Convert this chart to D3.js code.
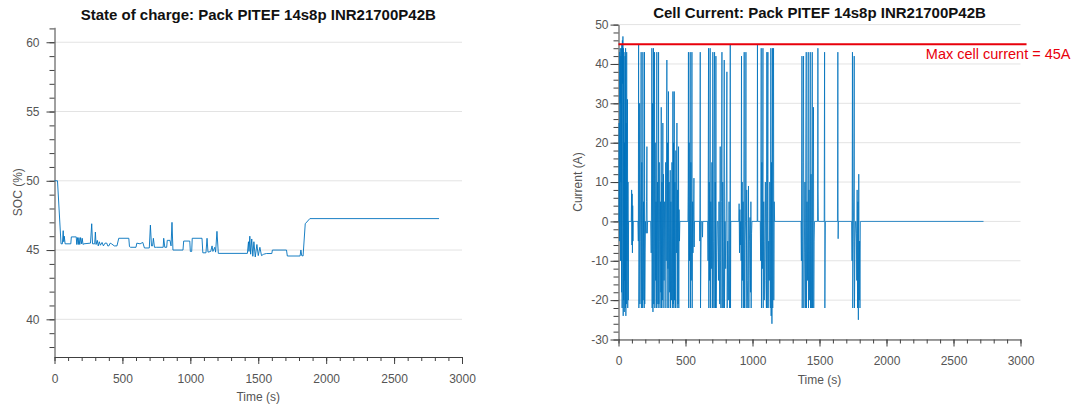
<!DOCTYPE html>
<html>
<head>
<meta charset="utf-8">
<script src="https://cdn.jsdelivr.net/npm/d3@7"></script>
<style>
  html, body { margin: 0; padding: 0; background: #fff; }
  svg { display: block; font-family: "Liberation Sans", Arial, sans-serif; }
</style>
</head>
<body>
<svg id="chart" width="1075" height="405"></svg>
<script>
// ---------------- DATA ----------------
const socTitle = "State of charge: Pack PITEF 14s8p INR21700P42B";
const curTitle = "Cell Current: Pack PITEF 14s8p INR21700P42B";
const xLabel = "Time (s)";
const socLabel = "SOC (%)";
const curLabel = "Current (A)";
const limitText = "Max cell current = 45A";

const xTicks = [0, 500, 1000, 1500, 2000, 2500, 3000];
const socTicks = [40, 45, 50, 55, 60];
const curTicks = [-30, -20, -10, 0, 10, 20, 30, 40, 50];

const socTime = [0, 22, 48, 58, 64, 68, 72, 78, 120, 124, 160, 164, 170, 175, 180, 186, 192, 198, 204, 210, 216, 265, 274, 280, 296, 301, 306, 315, 322, 330, 338, 350, 360, 372, 385, 392, 400, 410, 420, 440, 460, 473, 547, 552, 560, 600, 606, 630, 650, 662, 698, 706, 714, 722, 728, 736, 752, 800, 804, 812, 826, 830, 850, 858, 865, 872, 946, 951, 996, 1000, 1010, 1014, 1086, 1092, 1115, 1123, 1130, 1150, 1160, 1166, 1180, 1186, 1196, 1206, 1420, 1428, 1432, 1438, 1444, 1452, 1460, 1468, 1478, 1490, 1500, 1512, 1524, 1540, 1560, 1600, 1604, 1708, 1714, 1808, 1814, 1820, 1830, 1846, 1880, 2831];
const socValue = [50, 50, 45.45, 45.45, 46.4, 45.6, 46.0, 45.45, 45.45, 45.95, 45.95, 45.4, 45.9, 45.4, 45.9, 45.4, 45.9, 45.45, 45.85, 45.4, 45.45, 45.5, 46.9, 45.45, 45.45, 46.3, 45.4, 45.7, 45.3, 45.6, 45.35, 45.55, 45.3, 45.5, 45.5, 45.3, 45.3, 45.5, 45.45, 45.3, 45.3, 45.85, 45.85, 45.25, 45.2, 45.2, 45.5, 45.45, 45.55, 45.15, 45.15, 46.8, 45.3, 45.3, 45.85, 45.2, 45.2, 45.2, 45.85, 45.2, 45.2, 45.7, 45.7, 45.3, 47.0, 45.0, 45.0, 45.65, 45.65, 44.9, 44.9, 45.85, 45.85, 44.8, 44.8, 45.85, 44.85, 44.9, 45.3, 44.9, 45.2, 44.85, 46.35, 44.76, 44.76, 45.6, 44.9, 46.0, 44.7, 45.8, 44.55, 45.6, 44.5, 45.4, 44.6, 45.2, 44.6, 44.7, 44.75, 44.75, 45.0, 45.0, 44.57, 44.57, 45.0, 44.6, 44.57, 46.9, 47.27, 47.27];

const curTime = [0, 3, 5, 7, 9, 11, 13, 15, 17, 19, 21, 23, 25, 27, 29, 31, 33, 35, 37, 39, 41, 43, 45, 47, 49, 51, 53, 55, 57, 59, 61, 63, 65, 67, 69, 71, 73, 75,
  95, 98, 100, 102, 104, 106, 108, 110,
  145, 148, 150, 152, 155, 158, 160, 163, 166, 169, 171, 174, 177, 180, 182, 184, 187, 190, 192, 194, 196, 199, 202, 206, 209, 212, 214, 217,
  240, 244, 247, 249, 251, 254, 257, 259, 261, 263, 266, 269, 271, 274, 277, 280, 283, 286, 288, 291, 294, 296, 299, 301, 304, 307, 310, 313, 316, 319, 321, 324, 327, 331, 333, 336, 340, 344, 348, 352, 356, 361, 363, 366, 369, 373, 375, 378, 382, 386, 388, 391, 395, 399, 402, 406, 408, 411, 413, 416, 418, 421, 425, 428, 432, 436, 438, 441, 444, 448, 450, 452, 455, 458,
  518, 520, 522, 524, 527, 530, 533, 535, 537, 540, 543, 546, 548, 550, 553, 556, 559, 563, 565, 567,
  605, 607, 610, 612, 615, 618, 625, 627, 629,
  665, 668, 672, 674, 677, 680, 684, 686, 689, 693, 697, 700, 704, 706, 710, 713, 717, 719, 722, 724, 727, 729, 733, 737, 742, 746, 750, 755, 759, 761, 764, 768, 772, 774, 778, 782, 786, 789, 791, 795, 800, 805, 809, 811, 815, 820, 825, 829, 832, 834, 836, 838,
  898, 900, 903, 906, 909, 912, 915, 918, 920, 923, 926, 930, 934, 938, 940, 944, 948, 951, 953, 957, 961, 965, 970, 973, 977, 981, 985, 988, 990, 993, 996,
  1035, 1037, 1039, 1058, 1061, 1065, 1067, 1070, 1074, 1078, 1080, 1084, 1088, 1092, 1096, 1100, 1104, 1107, 1109, 1112, 1115, 1117, 1121, 1125, 1129, 1133, 1137, 1139, 1142, 1145, 1149, 1151, 1154, 1157, 1159, 1162, 1165,
  1362, 1365, 1369, 1371, 1374, 1377, 1381, 1383, 1387, 1391, 1395, 1398, 1401, 1403, 1407, 1411, 1416, 1418, 1422, 1426, 1431, 1433, 1437, 1441, 1446, 1448, 1451, 1455, 1457, 1460, 1463,
  1485, 1488, 1490, 1492, 1535, 1538, 1540, 1542, 1544, 1634, 1637, 1639, 1641,
  1740, 1743, 1746, 1748, 1752, 1756, 1759, 1761, 1765, 1769, 1772, 1775, 1778, 1781, 1784, 1787, 1790, 1793, 1796, 1799, 1802, 1805, 2724];
const curValue = [0, 0, 25, -5, 43, 30, 44, -10, 42, 10, 44, -18, 45, -22, 46, 35, 47, -24, 44, -20, 43, -23, 20, -15, 42, -22, 44, -24, 25, -21, 43, -10, 5, 31, -22, 10, -20, 0,
  0, 8, -6, 7, -8, 4, -5, 0,
  0, -5, 45, -22, -10, 30, -21, -5, 10, 43, -22, 15, -12, -22, 43, -20, 5, -10, -22, 43, -21, -8, 0, -3, 5, 19, -3, 0,
  0, -8, 10, 44, -22, 30, -23, 12, 44, -21, -5, 43, -22, 20, -15, 5, -22, 43, -21, 10, -8, -22, 43, -21, 15, -5, -22, 5, -18, 29, -22, 10, -20, 25, -22, 12, -15, 5, -22, 15, -10, 41, -22, 20, -12, 33, -22, 10, -18, 13, -22, 5, -20, 15, -22, 33, -21, 20, -22, 33, -20, 10, -22, 18, -8, 25, -22, 8, -21, 19, -22, 3, -5, 0,
  0, 10, 43, -22, 20, -10, 5, 43, -22, 15, -15, 0, 43, -22, 5, -8, 0, 11, -6.5, 0,
  0, -5, 43, -22, -10, 0, 0, -4, 0,
  0, -10, 44, -22, 10, -15, 44, -22, 5, -12, 15, -22, 43, -22, -5, 20, 43, -22, 10, -22, 42, -22, -8, 0, 0, -15, 5, -21, 19, -10, -22, 5, 43, -22, 10, -22, -5, 41, -22, 0, -12, 10, 38, -22, -5, -20, 5, -22, 0, 45, -22, 0,
  0, 4.5, -8, 3, -6, 0, -10, 42, -22, 10, -15, 5, -22, 43, -22, -5, 0, 43, -22, 8, -15, -22, 9, -22, -5, 1, -18, 5, -22, -3, 0,
  0, 45, 0, 0, -10, 44, -22, 15, -12, 44, -22, 5, -20, -5, 10, -15, -22, 43, -22, 12, 43, -22, -5, -15, 10, -22, 44, -24, 15, -26, 44, -22, 20, 44, -20, 5, 0,
  0, -10, 42, -22, -5, 15, 42, -22, -8, 10, -22, 20, 43, -22, 5, -15, 43, -22, 8, -20, 43, -22, 12, -22, 43, -22, 10, 29, -22, -5, 0,
  0, 44, 8, 0, 0, 43, -22, -10, 0, 0, 43, -4.4, 0,
  0, -10, 43, -22, -5, 10, 42, -22, -5, 0, 0, -3, -15, 8, -22, 5, -25, 12, -20, -5, -22, 0, 0];

const limitValue = 45;
const limitSpan = [0, 3045];

// ---------------- DRAW ----------------
const svg = d3.select("#chart");
const blue = "#0072BD";
const axisCol = "#404040";
const labelCol = "#555";
const gridCol = "#e3e3e3";
const fmt = d => String(d);   // plain hyphen minus, as in the reference

function rng(a, b, step) { return d3.range(a, b + step / 2, step); }

function panel(cfg) {
  const x = d3.scaleLinear().domain([0, 3000]).range(cfg.xr);
  const y = d3.scaleLinear().domain(cfg.yd).range(cfg.yr);
  const g = svg.append("g");

  // grid
  g.append("g").selectAll("line").data(cfg.yTicks).join("line")
    .attr("x1", x(0)).attr("x2", x(3000))
    .attr("y1", d => y(d)).attr("y2", d => y(d))
    .attr("stroke", gridCol).attr("stroke-width", 1);

  // minor ticks
  g.append("g").attr("transform", `translate(0,${cfg.yr[0]})`)
    .call(d3.axisBottom(x).tickValues(rng(0, 3000, 100)).tickSize(4).tickFormat(""))
    .call(s => s.select(".domain").remove())
    .call(s => s.selectAll("line").attr("stroke", axisCol));
  g.append("g").attr("transform", `translate(${cfg.xr[0]},0)`)
    .call(d3.axisLeft(y).tickValues(cfg.yMinor).tickSize(5).tickFormat(""))
    .call(s => s.select(".domain").remove())
    .call(s => s.selectAll("line").attr("stroke", axisCol));

  // major axes
  const xa = g.append("g").attr("transform", `translate(0,${cfg.yr[0]})`)
    .call(d3.axisBottom(x).tickValues(xTicks).tickSizeInner(7).tickSizeOuter(0).tickPadding(10).tickFormat(fmt));
  const ya = g.append("g").attr("transform", `translate(${cfg.xr[0]},0)`)
    .call(d3.axisLeft(y).tickValues(cfg.yTicks).tickSizeInner(8).tickSizeOuter(0).tickPadding(cfg.yPad).tickFormat(fmt));
  [xa, ya].forEach(a => {
    a.select(".domain").attr("stroke", axisCol);
    a.selectAll("line").attr("stroke", axisCol);
    a.selectAll("text").attr("fill", labelCol).style("font-size", "12px")
      .style("font-family", "Liberation Sans, Arial, sans-serif");
  });

  // axis titles
  g.append("text").attr("x", (cfg.xr[0] + cfg.xr[1]) / 2).attr("y", cfg.yr[0] + 40)
    .attr("text-anchor", "middle").attr("dominant-baseline", "central")
    .attr("fill", labelCol).style("font-size", "12px").text(xLabel);
  g.append("text")
    .attr("transform", `translate(${cfg.ylabX},${(cfg.yr[0] + cfg.yr[1]) / 2}) rotate(-90)`)
    .attr("text-anchor", "middle").attr("dominant-baseline", "central")
    .attr("fill", labelCol).style("font-size", "12px").text(cfg.ylab);

  // title
  g.append("text").attr("x", (cfg.xr[0] + cfg.xr[1]) / 2).attr("y", cfg.titleY)
    .attr("text-anchor", "middle").attr("fill", "#111")
    .style("font-size", "15px").style("font-weight", "bold").text(cfg.title);

  return { x, y, g };
}

// Left: SOC
const L = panel({
  xr: [54.5, 462], yd: [37.28, 61.08], yr: [357, 27.3],
  yTicks: socTicks, yMinor: rng(38, 61, 1), yPad: 7,
  ylab: socLabel, ylabX: 17.5, title: socTitle, titleY: 20
});
L.g.append("path")
  .datum(d3.zip(socTime, socValue))
  .attr("fill", "none").attr("stroke", blue).attr("stroke-width", 0.9)
  .attr("d", d3.line().x(d => L.x(d[0])).y(d => L.y(d[1])));

// Right: Current
const R = panel({
  xr: [618.5, 1020.5], yd: [-30, 50], yr: [339.5, 24.6],
  yTicks: curTicks, yMinor: rng(-30, 50, 2), yPad: 2,
  ylab: curLabel, ylabX: 577.5, title: curTitle, titleY: 18
});
R.g.append("path")
  .datum(d3.zip(curTime, curValue))
  .attr("fill", "none").attr("stroke", blue).attr("stroke-width", 0.8)
  .attr("stroke-linejoin", "round")
  .attr("d", d3.line().x(d => R.x(d[0])).y(d => R.y(d[1])));

// limit line
R.g.append("line")
  .attr("x1", R.x(limitSpan[0])).attr("x2", R.x(limitSpan[1]))
  .attr("y1", R.y(limitValue)).attr("y2", R.y(limitValue))
  .attr("stroke", "#e8000b").attr("stroke-width", 2);
R.g.append("text")
  .attr("x", R.x(limitSpan[1]) + 44).attr("y", R.y(limitValue) + 15)
  .attr("text-anchor", "end").attr("fill", "#e8000b")
  .style("font-size", "14.5px").text(limitText);
</script>
</body>
</html>
